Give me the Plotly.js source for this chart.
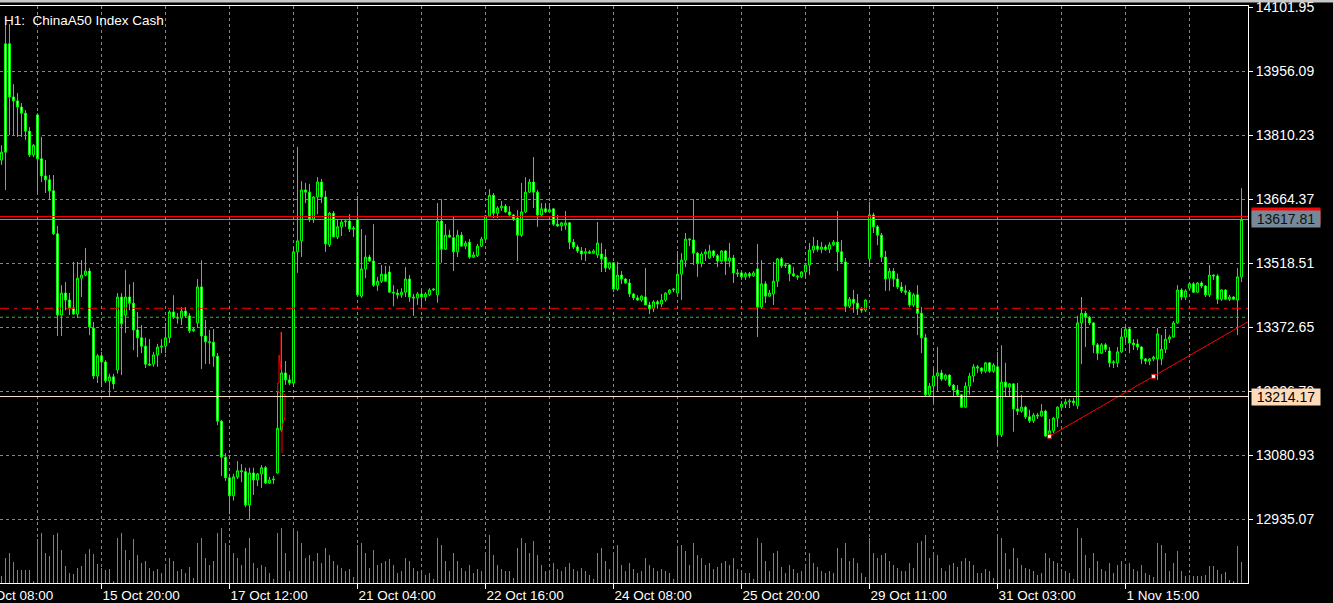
<!DOCTYPE html>
<html>
<head>
<meta charset="utf-8">
<script src="https://cdn.plot.ly/plotly-3.0.1.min.js"></script>
<style>
html,body{margin:0;padding:0;background:#000;overflow:hidden}
#chart{width:1333px;height:603px}
</style>
</head>
<body>
<div id="chart"></div>
<script>
// ---------- DATA (H1 candles, ChinaA50 Index Cash) ----------
const openP = [
13753,14018,14018,13897,13888,13874,13860,13819,13765,13856,
13756,13717,13708,13683,13585,13400,13450,13434,13416,13402,
13484,13491,13500,13370,13261,13307,13293,13250,13259,13275,
13441,13400,13441,13427,13366,13348,13329,13288,13288,13309,
13327,13329,13348,13407,13395,13393,13409,13398,13364,13382,
13464,13352,13339,13338,13306,13158,13076,13029,12988,13031,
13045,13043,12967,13040,13024,13038,13052,13017,13024,13040,
13138,13268,13252,13245,13544,13569,13685,13680,13619,13669,
13703,13669,13560,13632,13578,13601,13612,13614,13596,13617,
13443,13505,13532,13523,13468,13477,13493,13498,13452,13450,
13446,13452,13482,13441,13439,13448,13441,13446,13457,13446,
13614,13550,13582,13576,13544,13582,13557,13566,13532,13535,
13557,13573,13626,13673,13632,13644,13648,13635,13628,13621,
13582,13635,13680,13703,13680,13628,13642,13635,13642,13607,
13603,13605,13610,13566,13555,13546,13541,13544,13541,13537,
13539,13532,13507,13519,13459,13491,13482,13473,13448,13439,
13434,13441,13423,13414,13430,13425,13434,13450,13457,13450,
13493,13525,13571,13571,13541,13518,13539,13530,13546,13535,
13523,13546,13523,13530,13496,13496,13487,13494,13489,13505,
13418,13471,13443,13448,13477,13528,13512,13514,13494,13489,
13487,13498,13514,13548,13557,13550,13555,13550,13560,13566,
13544,13521,13420,13436,13427,13414,13411,13528,13628,13601,
13582,13532,13484,13500,13482,13464,13455,13452,13423,13446,
13404,13348,13218,13238,13261,13268,13254,13263,13240,13229,
13218,13190,13238,13261,13282,13279,13272,13291,13272,13282,
13127,13247,13236,13243,13186,13181,13190,13168,13159,13172,
13170,13181,13124,13136,13165,13190,13197,13202,13204,13193,
13382,13404,13395,13382,13332,13313,13332,13318,13291,13291,
13316,13350,13368,13336,13334,13327,13300,13295,13300,13300,
13300,13322,13345,13350,13382,13457,13441,13461,13471,13452,
13473,13466,13446,13491,13489,13436,13457,13436,13441,13434,13487
];
const highP = [
13787,14063,14063,13926,13906,13883,13867,13828,13790,13860,
13806,13753,13719,13719,13603,13468,13475,13450,13521,13521,
13525,13553,13507,13384,13311,13316,13297,13266,13266,13450,
13450,13503,13470,13475,13407,13377,13348,13345,13316,13334,
13345,13382,13411,13445,13404,13418,13418,13404,13372,13482,
13525,13389,13366,13368,13313,13161,13085,13038,13038,13067,
13060,13052,13052,13052,13040,13058,13056,13031,13033,13225,
13361,13295,13263,13555,13783,13705,13701,13699,13671,13714,
13710,13683,13635,13637,13617,13617,13619,13630,13603,13671,
13596,13582,13537,13607,13487,13514,13512,13512,13468,13459,
13461,13509,13491,13448,13452,13457,13452,13461,13461,13655,
13664,13607,13594,13626,13594,13589,13569,13573,13544,13562,
13578,13628,13687,13678,13648,13660,13653,13648,13630,13639,
13701,13714,13710,13760,13685,13655,13655,13655,13642,13628,
13612,13637,13612,13573,13560,13555,13553,13548,13550,13612,
13564,13550,13521,13521,13521,13500,13484,13482,13450,13445,
13445,13507,13430,13434,13434,13448,13452,13459,13461,13546,
13541,13587,13575,13664,13544,13544,13550,13560,13548,13539,
13548,13548,13564,13537,13505,13498,13498,13498,13500,13562,
13525,13477,13457,13521,13530,13532,13519,13516,13509,13491,
13500,13519,13564,13578,13571,13566,13560,13566,13571,13637,
13571,13530,13441,13457,13448,13418,13436,13658,13633,13605,
13587,13546,13507,13507,13494,13475,13468,13457,13450,13468,
13418,13357,13245,13279,13327,13275,13266,13265,13243,13240,
13220,13247,13268,13288,13286,13281,13293,13293,13290,13316,
13331,13291,13245,13245,13245,13218,13193,13184,13177,13177,
13197,13184,13163,13168,13192,13204,13209,13209,13211,13398,
13441,13409,13398,13384,13336,13336,13336,13327,13297,13327,
13370,13375,13373,13345,13345,13329,13302,13302,13307,13370,
13354,13368,13354,13386,13468,13461,13459,13475,13475,13475,
13477,13468,13514,13493,13493,13459,13459,13446,13443,13507,13689
];
const lowP = [
13742,13685,13810,13810,13806,13806,13799,13760,13760,13678,
13703,13678,13662,13582,13352,13352,13411,13400,13400,13393,
13441,13488,13354,13254,13245,13236,13245,13213,13231,13266,
13263,13359,13411,13320,13304,13313,13279,13284,13282,13282,
13313,13313,13336,13391,13380,13377,13393,13359,13361,13370,
13277,13288,13288,13282,13149,13033,13022,12946,12977,13026,
13019,12962,12933,12990,13010,13006,13015,13015,13015,13038,
13134,13241,13240,13236,13496,13532,13655,13612,13610,13630,
13655,13544,13555,13578,13573,13580,13601,13589,13578,13443,
13439,13484,13521,13464,13455,13473,13477,13450,13420,13437,
13439,13441,13430,13398,13423,13416,13432,13443,13455,13428,
13519,13548,13576,13500,13532,13555,13550,13528,13530,13532,
13555,13569,13624,13621,13621,13637,13632,13626,13614,13523,
13578,13632,13678,13644,13601,13623,13632,13632,13603,13601,
13592,13594,13550,13550,13541,13525,13523,13539,13539,13530,
13498,13498,13503,13452,13455,13471,13471,13441,13434,13432,
13430,13423,13402,13407,13414,13418,13430,13446,13452,13448,
13434,13509,13557,13514,13487,13509,13523,13528,13530,13509,
13519,13491,13509,13473,13487,13480,13480,13484,13487,13350,
13414,13427,13441,13423,13464,13507,13507,13477,13487,13480,
13484,13484,13491,13541,13544,13541,13546,13541,13557,13500,
13516,13407,13416,13405,13400,13405,13407,13512,13587,13559,
13521,13455,13455,13464,13459,13450,13446,13418,13418,13354,
13313,13213,13213,13200,13225,13250,13250,13236,13213,13213,
13188,13188,13218,13247,13268,13266,13268,13268,13268,13104,
13122,13213,13213,13134,13172,13177,13163,13154,13154,13163,
13168,13122,13122,13131,13145,13188,13188,13188,13193,13186,
13288,13327,13377,13313,13297,13311,13316,13281,13279,13281,
13313,13336,13313,13320,13320,13288,13288,13286,13295,13252,
13286,13313,13336,13348,13380,13434,13434,13457,13450,13450,
13461,13441,13441,13480,13425,13432,13434,13432,13434,13354,13475
];
const closeP = [
13771,13771,13897,13888,13874,13860,13819,13765,13787,13756,
13717,13708,13683,13585,13400,13450,13434,13416,13402,13484,
13491,13500,13373,13261,13307,13293,13250,13259,13243,13441,
13380,13441,13427,13366,13348,13329,13288,13286,13309,13327,
13329,13348,13407,13395,13393,13409,13398,13364,13368,13464,
13352,13339,13338,13306,13158,13076,13029,12988,13031,13045,
13043,12967,13040,13024,13038,13052,13017,13024,13026,13142,
13268,13252,13245,13544,13569,13685,13680,13619,13669,13703,
13669,13562,13632,13578,13601,13612,13614,13596,13598,13446,
13505,13532,13523,13468,13477,13493,13477,13452,13450,13446,
13452,13482,13441,13439,13448,13441,13448,13457,13459,13614,
13550,13582,13578,13544,13582,13557,13564,13532,13537,13557,
13573,13626,13673,13632,13644,13648,13635,13628,13619,13582,
13635,13680,13703,13680,13628,13642,13635,13640,13607,13603,
13610,13610,13566,13555,13546,13539,13544,13541,13546,13564,
13528,13507,13519,13459,13491,13482,13473,13448,13439,13434,
13443,13423,13414,13430,13425,13434,13450,13457,13459,13493,
13525,13573,13573,13541,13518,13539,13544,13546,13535,13523,
13546,13523,13530,13496,13494,13487,13494,13489,13496,13418,
13471,13443,13450,13477,13528,13512,13514,13494,13489,13487,
13498,13514,13548,13557,13550,13555,13550,13560,13566,13544,
13521,13420,13436,13427,13414,13411,13434,13628,13601,13582,
13532,13482,13500,13482,13464,13455,13452,13423,13446,13404,
13348,13218,13238,13261,13268,13254,13263,13240,13229,13218,
13190,13238,13261,13282,13279,13272,13291,13272,13286,13127,
13247,13236,13243,13186,13181,13190,13168,13159,13172,13170,
13181,13124,13136,13165,13190,13197,13202,13204,13200,13382,
13404,13395,13382,13332,13313,13332,13322,13291,13293,13316,
13350,13368,13336,13332,13327,13300,13295,13300,13304,13357,
13322,13345,13350,13382,13457,13441,13455,13471,13452,13473,
13466,13446,13491,13489,13436,13457,13436,13441,13436,13487,13617.81
];
// tick volume (hundreds)
const volume = [
7,25,30,21,13,13,13,13,2,44,50,30,27,48,50,33,17,10,9,15,17,29,34,29,19,15,13,14,2,45,50,33,23,44,28,
20,22,15,12,14,10,18,25,22,12,14,10,16,5,
40,45,25,18,22,
50,55,40,38,
30,25,18,35,45,20,15,18,16,10,4,
50,55,30,12,55,52,40,
25,28,22,30,20,35,28,22,18,15,12,14,6,
38,40,30,15,33,18,20,22,24,18,10,12,25,22,15,12,10,8,10,4,
45,38,22,12,30,22,15,12,18,10,14,12,30,48,28,18,14,12,12,5,
35,45,40,30,42,28,18,12,10,20,14,12,16,20,14,12,15,12,8,4,
30,35,22,14,30,38,18,12,20,14,10,12,25,18,15,12,14,12,10,4,
35,38,32,18,40,28,25,18,20,14,16,20,22,18,25,14,10,10,10,4,
45,40,22,12,30,32,16,10,18,14,10,12,18,30,20,16,12,10,12,10,35,25,40,22,25,20,10,6,
45,30,25,28,30,22,18,15,12,12,20,15,40,42,48,25,30,
28,15,12,18,20,16,22,25,22,18,10,10,14,12,5,
48,45,30,14,35,25,18,15,14,12,8,10,30,25,22,20,14,12,10,4,
55,45,28,15,30,22,14,12,20,10,18,22,18,20,14,12,18,10,8,6,40,38,30,12,20,32,
12,7,8,7,7,7,8,17,17,13,9,11,3,2,37,21
];

// price-axis ticks
const yTickVals = [14101.95, 13956.09, 13810.23, 13664.37, 13518.51, 13372.65, 13226.79, 13080.93, 12935.07];
// time-axis labels (bar index -> text)
const xTickBars = [25, 57, 89, 121, 153, 185, 217, 249, 281];
const xTickText = ['15 Oct 20:00', '17 Oct 12:00', '21 Oct 04:00', '22 Oct 16:00', '24 Oct 08:00',
                   '25 Oct 20:00', '29 Oct 11:00', '31 Oct 03:00', '1 Nov 15:00'];
const firstLabelBar = -7;
const firstLabelText = '14 Oct 08:00';

// horizontal levels
const bidPrice = 13617.81;
const redLevel = 13624.5;
const whiteLevel = 13214.17;
const redDashLevel = 13415.3;
const greenDashLevel = 13394.8;

// trendline anchors (bar index, price)
const trendBars = [262, 288];
const trendPrices = [13123.6, 13260.3];

// red zigzag object near 17 Oct rally
const zigBars = [69.875, 69.875, 69.375, 69.375, 69.05, 69.05, 70.875, 70.875, 70.125, 70.125];
const zigPrices = [13361, 13275, 13309, 13245, 13245, 13225, 13218, 13168, 13145, 13086];

// ---------- CHART ----------
const barIndex = openP.map((_, i) => i);
const xMin = -0.375, xMax = 311.625;
const yMin = 12789.21, yMax = 14104.23;

const slope = (trendPrices[1] - trendPrices[0]) / (trendBars[1] - trendBars[0]);
const trendEndY = trendPrices[0] + slope * (xMax - trendBars[0]);

const FONT = 'Liberation Sans, Arial, sans-serif';
const gridCol = '#778899';

const traces = [
  {
    type: 'candlestick', x: barIndex, open: openP, high: highP, low: lowP, close: closeP,
    increasing: {line: {color: '#00ff00', width: 1}, fillcolor: '#000000'},
    decreasing: {line: {color: '#00ff00', width: 1}, fillcolor: '#ffffff'},
    whiskerwidth: 0, hoverinfo: 'skip', showlegend: false
  },
  {
    type: 'scatter', mode: 'lines', x: zigBars, y: zigPrices,
    line: {color: '#ff0000', width: 1}, hoverinfo: 'skip', showlegend: false
  },
  {
    type: 'scatter', mode: 'lines', x: [trendBars[0], xMax], y: [trendPrices[0], trendEndY],
    line: {color: '#ff0000', width: 1}, hoverinfo: 'skip', showlegend: false
  },
  {
    type: 'scatter', mode: 'markers', x: trendBars, y: trendPrices,
    marker: {symbol: 'square', size: 4, color: '#ffffff', line: {color: '#ff0000', width: 1}},
    hoverinfo: 'skip', showlegend: false
  },
  {
    type: 'bar', x: barIndex, y: volume, yaxis: 'y2', width: 0.25,
    marker: {color: '#33b833', line: {width: 0}}, hoverinfo: 'skip', showlegend: false
  }
];

const hline = (y, color, dash) => ({
  type: 'line', xref: 'paper', x0: 0, x1: 1, yref: 'y', y0: y, y1: y,
  line: {color: color, width: 1, dash: dash || 'solid'}
});

const labelBox = (y, text, bg, fg) => ({
  xref: 'paper', x: 1251 / 1248, xanchor: 'left', yref: 'y', y: y, yanchor: 'middle',
  text: text, showarrow: false, bgcolor: bg, borderpad: 0, width: 68, height: 16,
  font: {family: FONT, size: 14, color: fg}, align: 'center'
});

const layout = {
  width: 1333, height: 603,
  margin: {l: 0, r: 85, t: 6, b: 20, pad: 0},
  paper_bgcolor: '#000000', plot_bgcolor: '#000000',
  showlegend: false,
  font: {family: FONT, size: 13.5, color: '#ffffff'},
  bargap: 0,
  xaxis: {
    range: [xMin, xMax], type: 'linear',
    tickmode: 'array', tickvals: xTickBars, ticktext: xTickText,
    ticks: 'outside', ticklen: 5, tickwidth: 1, tickcolor: '#ffffff',
    ticklabelposition: 'outside right',
    tickfont: {family: FONT, size: 13.5, color: '#ffffff'},
    showgrid: true, gridcolor: gridCol, gridwidth: 1, griddash: '3px,3px',
    minor: {tick0: 9, dtick: 16, showgrid: true, gridcolor: gridCol, gridwidth: 1, griddash: '3px,3px', ticks: ''},
    showline: true, linecolor: '#ffffff', linewidth: 1, mirror: true,
    zeroline: false, rangeslider: {visible: false}, fixedrange: true
  },
  yaxis: {
    range: [yMin, yMax], side: 'right',
    tickmode: 'array', tickvals: yTickVals, ticktext: yTickVals.map(v => v.toFixed(2)),
    ticks: 'outside', ticklen: 4, tickwidth: 1, tickcolor: '#ffffff',
    ticklabeloverflow: 'allow',
    tickfont: {family: FONT, size: 14, color: '#ffffff'},
    showgrid: true, gridcolor: gridCol, gridwidth: 1, griddash: '3px,3px',
    showline: true, linecolor: '#ffffff', linewidth: 1, mirror: true,
    zeroline: false, fixedrange: true
  },
  yaxis2: {overlaying: 'y', range: [0, 577], visible: false, fixedrange: true},
  shapes: [
    hline(redDashLevel, '#ff0000', '9px,5px,3px,5px'),
    hline(greenDashLevel, '#3cb83c', '3px,3px'),
    hline(whiteLevel, '#ffe6cc'),
    hline(bidPrice, '#9099a4'),
    hline(redLevel, '#ff0000'),
    {type: 'rect', xref: 'paper', yref: 'paper', x0: -0.01, x1: 1.08,
     y0: 1 + 3.5 / 577, y1: 1 + 7 / 577, fillcolor: '#c8c8c8', line: {width: 0}, layer: 'above'}
  ],
  annotations: [
    {xref: 'paper', x: 2 / 1248, xanchor: 'left', yref: 'paper', y: 1 - 14.5 / 577, yanchor: 'middle',
     text: 'H1:\u00a0 ChinaA50 Index Cash', showarrow: false, font: {family: FONT, size: 13.5, color: '#ffffff'}},
    {xref: 'paper', x: (firstLabelBar - xMin) / (xMax - xMin), xanchor: 'left', yref: 'paper', y: 0,
     yanchor: 'top', yshift: -3, text: firstLabelText, showarrow: false,
     font: {family: FONT, size: 13.5, color: '#ffffff'}},
    labelBox(redLevel, ' ', '#ff0000', '#ff0000'),
    labelBox(bidPrice, bidPrice.toFixed(2), '#778899', '#101010'),
    labelBox(whiteLevel, whiteLevel.toFixed(2), '#ffdab9', '#000000')
  ]
};

Plotly.newPlot('chart', traces, layout, {staticPlot: true, displayModeBar: false});
</script>
</body>
</html>
